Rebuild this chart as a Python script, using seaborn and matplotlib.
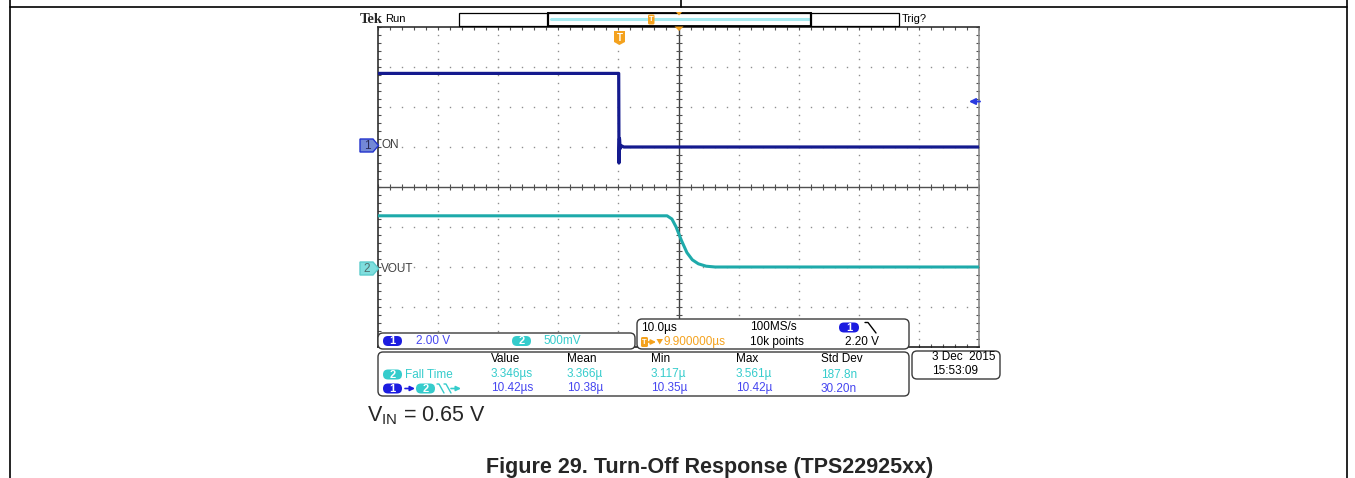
import numpy as np
import pandas as pd
import matplotlib.pyplot as plt
import seaborn as sns
from matplotlib.patches import FancyBboxPatch, Polygon, Rectangle

# Channel 1 (ON, 2 V/div) and channel 2 (VOUT, 500 mV/div), time in us from trigger
ch1_t = [-40.1, -0.05, 0.0, 0.08, 0.2, 0.4, 0.8, 59.9]
ch1_v = [3.68, 3.68, -0.80, 0.42, -0.08, 0.06, 0.0, 0.0]
ch2_t = [-40.1, 8.0, 8.8, 9.5, 10.4, 11.3, 12.2, 13.2, 14.5, 16.0, 59.9]
ch2_v = [0.64, 0.64, 0.60, 0.50, 0.33, 0.18, 0.09, 0.04, 0.01, 0.0, 0.0]

# scope settings
ch1_scale, ch1_offset = 2.0, 1.0     # V/div, ground position in divisions
ch2_scale, ch2_offset = 0.5, -2.0
t_left, t_div = -40.1, 10.0

# measurement table
meas_cols = ['Value', 'Mean', 'Min', 'Max', 'Std Dev']
fall_vals = ['3.346µs', '3.366µ', '3.117µ', '3.561µ', '187.8n']
delay_vals = ['10.42µs', '10.38µ', '10.35µ', '10.42µ', '30.20n']

W, H = 1355, 478
BLUE = '#1c1ce0'
BLUE_TXT = '#4646f0'
CYAN = '#35cccc'
ORANGE = '#f4a21e'
NAVY = '#141a8e'
TEAL = '#1eaaaa'
FONT = ['Liberation Sans', 'DejaVu Sans']

sns.set_style('white')
plt.rcParams['font.family'] = FONT
plt.rcParams['mathtext.fontset'] = 'custom'
plt.rcParams['mathtext.rm'] = 'Liberation Sans'

fig = plt.figure(figsize=(W / 100, H / 100), dpi=100)

# ---- scope screen ----
ax = fig.add_axes([378 / W, 1 - 347 / H, 601 / W, 320 / H])
df1 = pd.DataFrame({'t': ch1_t, 'div': np.array(ch1_v) / ch1_scale + ch1_offset})
df2 = pd.DataFrame({'t': ch2_t, 'div': np.array(ch2_v) / ch2_scale + ch2_offset})
sns.lineplot(data=df2, x='t', y='div', ax=ax, color=TEAL, lw=2.2, estimator=None, zorder=5)
sns.lineplot(data=df1, x='t', y='div', ax=ax, color=NAVY, lw=2.3, estimator=None, zorder=6)
t_right = t_left + 10 * t_div
ax.set_xlim(t_left, t_right)
ax.set_ylim(-4, 4)
ax.set_xticks([])
ax.set_yticks([])
ax.set_xlabel('')
ax.set_ylabel('')
for side, c in [('left', '#303030'), ('top', '#303030'), ('bottom', '#202020'), ('right', '#8a8a8a')]:
    ax.spines[side].set_visible(True)
    ax.spines[side].set_color(c)
    ax.spines[side].set_linewidth(1.2)

xs = t_left + np.arange(51) * t_div / 5
ys = -4 + np.arange(41) * 0.2
t_mid = t_left + 5 * t_div
dot = dict(ls='none', marker='s', ms=1.0, color='#8f8f8f', mew=0)
for k in range(1, 10):
    if k != 5:
        ax.plot([t_left + k * t_div] * len(ys), ys, **dot)
for j in [-3, -2, -1, 1, 2, 3]:
    ax.plot(xs, [j] * len(xs), **dot)
ax.axvline(t_mid, color='#404040', lw=1.0)
ax.axhline(0, color='#505050', lw=1.0)
tk = dict(ls='none', color='#505050', mew=0.8)
ax.plot(xs, [0] * len(xs), marker='|', ms=4, **tk)
ax.plot([t_mid] * len(ys), ys, marker='_', ms=4, **tk)
ax.plot(xs, [4] * len(xs), marker='|', ms=4, **tk)
ax.plot(xs, [-4] * len(xs), marker='|', ms=4, **tk)
ax.plot([t_left] * len(ys), ys, marker='_', ms=4, **tk)
ax.plot([t_right] * len(ys), ys, marker='_', ms=4, **tk)

# ---- overlay in pixel coordinates ----
ov = fig.add_axes([0, 0, 1, 1])
ov.set_xlim(0, W)
ov.set_ylim(H, 0)
ov.axis('off')


def txt(x, y, s, color='black', size=8, **kw):
    ov.text(x, y, s, color=color, fontsize=size, va='center', zorder=6, **kw)


def rbox(x0, y0, x1, y1, r=5):
    ov.add_patch(FancyBboxPatch((x0, y0), x1 - x0, y1 - y0,
                                boxstyle=f'round,pad=0,rounding_size={r}',
                                fc='white', ec='#3a3a3a', lw=1.0, zorder=3))


def badge(x0, x1, yc, label, fc):
    ov.add_patch(FancyBboxPatch((x0, yc - 5), x1 - x0, 10,
                                boxstyle='round,pad=0,rounding_size=5',
                                fc=fc, ec='none', zorder=4))
    ov.text((x0 + x1) / 2, yc + 0.5, label, color='white', fontsize=8,
            ha='center', va='center', fontweight='bold', zorder=5)


def arrow(x0, x1, y, color, scale=7, lw=1.2):
    ov.annotate('', xy=(x1, y), xytext=(x0, y), zorder=6,
                arrowprops=dict(arrowstyle='-|>', color=color, lw=lw,
                                mutation_scale=scale, shrinkA=0, shrinkB=0))


# page frame
ov.plot([10, 1347], [7, 7], color='black', lw=1.2)
ov.plot([10, 10], [0, H], color='black', lw=1.2)
ov.plot([1347, 1347], [0, H], color='black', lw=1.2)
ov.plot([681, 681], [0, 7], color='black', lw=1.2)

# header
ov.text(360, 19.5, 'Tek', fontsize=10.5, fontweight='bold', family='Liberation Serif', va='center')
txt(385, 19, 'Run', size=8)
txt(902, 19, 'Trig?', size=8)
ov.add_patch(Rectangle((459, 13), 440, 12.5, fc='white', ec='black', lw=0.9))
ov.plot([551, 809], [19, 19], color='#a4eaf0', lw=2.2)
ov.plot([548, 548], [13, 25.5], color='black', lw=1.6)
ov.plot([811, 811], [13, 25.5], color='black', lw=1.6)
ov.plot([548, 811], [13, 13], color='black', lw=1.3)
ov.plot([548, 811], [25.5, 25.5], color='black', lw=1.3)
ov.add_patch(FancyBboxPatch((648, 14.5), 6.5, 10, boxstyle='round,pad=0,rounding_size=1.5',
                            fc=ORANGE, ec='none', zorder=5))
ov.text(651.3, 19.8, 'T', color='white', fontsize=5.5, ha='center', va='center',
        fontweight='bold', zorder=6)
ov.add_patch(Polygon([(676, 12), (682, 12), (679, 15.5)], fc=ORANGE, ec='none', zorder=6))
ov.add_patch(Polygon([(674.5, 26.5), (683.5, 26.5), (679, 31)], fc=ORANGE, ec='none', zorder=6))
ov.add_patch(Polygon([(614, 31), (625, 31), (625, 42), (619.5, 45), (614, 42)],
                     fc=ORANGE, ec='none', zorder=6))
ov.text(619.5, 37.5, 'T', color='white', fontsize=7, ha='center', va='center',
        fontweight='bold', zorder=7)

# channel ground markers
ov.add_patch(Polygon([(360, 139), (373, 139), (378.5, 145.5), (373, 152), (360, 152)],
                     fc='#7388d6', ec='#2233cc', lw=1.0, zorder=6))
ov.text(367, 146, '1', color='#2a2a55', fontsize=8.5, ha='center', va='center', zorder=7)
txt(381, 145.5, 'ON', color='#404040', size=8.5)
ov.add_patch(Polygon([(360, 262), (373, 262), (378.5, 268.5), (373, 275), (360, 275)],
                     fc='#7fdede', ec='#5ccccc', lw=1.0, zorder=6))
ov.text(367, 269, '2', color='#4f6e6e', fontsize=8.5, ha='center', va='center', zorder=7)
txt(381, 268.5, 'VOUT', color='#404040', size=8.5)

# trigger level arrow
arrow(980, 969, 101.5, '#2a3ae0', scale=9, lw=1.4)

# vertical scale box
rbox(378, 333, 635, 349)
badge(383, 402, 341, '1', BLUE)
txt(416, 341, '2.00 V', color=BLUE_TXT, size=8.5)
badge(512, 531, 341, '2', CYAN)
txt(543, 341, '500mV', color=CYAN, size=8.5)

# horizontal / trigger box
rbox(637, 319, 909, 349)
txt(641, 327.5, '10.0µs', size=8.5)
txt(750, 327.5, '100MS/s', size=8.5)
badge(839, 859, 327.5, '1', BLUE)
ov.plot([865, 868, 876], [322.5, 322.5, 333], color='black', lw=1.0, zorder=6)
ov.add_patch(FancyBboxPatch((641, 337), 7, 10, boxstyle='round,pad=0,rounding_size=1.5',
                            fc=ORANGE, ec='none', zorder=4))
ov.text(644.5, 342.5, 'T', color='white', fontsize=5.5, ha='center', va='center',
        fontweight='bold', zorder=5)
arrow(648, 656, 342, ORANGE)
ov.add_patch(Polygon([(656.5, 339), (663, 339), (659.7, 344.5)], fc=ORANGE, ec='none', zorder=6))
txt(664, 342, '9.900000µs', color=ORANGE, size=8.5)
txt(750, 342, '10k points', size=8.5)
txt(845, 342, '2.20 V', size=8.5)

# measurement box
rbox(378, 352, 909, 396)
col_x = [491, 567, 651, 736, 821]
for x, name in zip(col_x, meas_cols):
    txt(x, 359.5, name, size=8.5)
badge(383, 402, 374.5, '2', CYAN)
txt(405, 374.5, 'Fall Time', color=CYAN, size=8.5)
for x, v in zip(col_x, fall_vals):
    txt(x, 374.5, v, color=CYAN, size=8.5)
badge(383, 402, 388.5, '1', BLUE)
arrow(405, 415, 388.5, BLUE)
badge(416, 435, 388.5, '2', CYAN)
ov.plot([437, 439, 444], [384, 384, 393], color=CYAN, lw=1.0, zorder=6)
ov.plot([444, 446, 451], [384, 384, 393], color=CYAN, lw=1.0, zorder=6)
arrow(451, 461, 388.5, CYAN)
for x, v in zip(col_x, delay_vals):
    txt(x, 388.5, v, color=BLUE_TXT, size=8.5)

# date box
rbox(912, 351, 1000, 379)
txt(996, 357.5, '3 Dec  2015', ha='right', size=8.5)
txt(932, 371.5, '15:53:09', size=8.5)

# page text
ov.text(367, 421, r'V$_{\mathrm{IN}}$ = 0.65 V', fontsize=15.5, va='baseline')
ov.text(710, 473, 'Figure 29. Turn-Off Response (TPS22925xx)', fontsize=15.5,
        fontweight='bold', ha='center', va='baseline')

fig.savefig('out.png', dpi=100)
